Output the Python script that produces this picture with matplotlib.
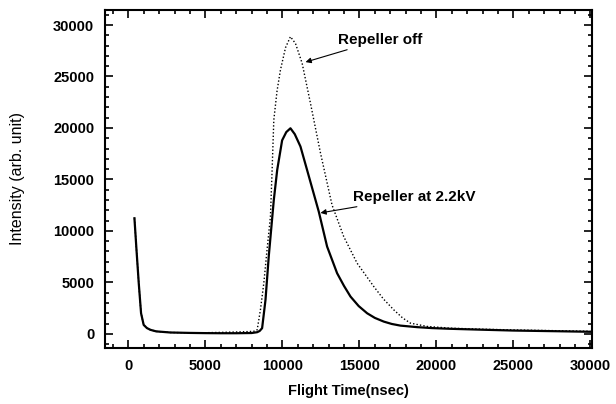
import matplotlib.pyplot as plt
from matplotlib.ticker import MultipleLocator

plt.rcParams['font.family'] = ['Liberation Sans', 'DejaVu Sans']

# flight time (nsec) / intensity, repeller at 2.2 kV
t_on = [390, 530, 670, 820, 990, 1200, 1430, 1800, 2730, 4000, 5000, 6000, 7000,
        8000, 8360, 8520, 8680, 8900, 9110, 9440, 9660, 9980, 10250, 10520,
        10800, 11170, 11600, 12360, 12900, 13550, 14000, 14420, 14950, 15500,
        16000, 16580, 17100, 17660, 18750, 19700, 20900, 23000, 25000, 28000,
        30000]
i_on = [11230, 8000, 4920, 2000, 870, 560, 390, 240, 130, 90, 70, 60, 60,
        80, 160, 280, 550, 3300, 7500, 13010, 15920, 18800, 19600, 19970,
        19400, 18200, 15920, 11870, 8480, 5890, 4650, 3620, 2700, 2000,
        1550, 1190, 960, 800, 650, 560, 490, 400, 320, 250, 200]

# repeller off
t_off = [390, 530, 670, 820, 990, 1200, 1430, 1800, 2730, 4000, 5000, 6000, 7000,
         7800, 8200, 8360, 8570, 8790, 9000, 9220, 9330, 9440, 9650, 9870,
         10200, 10520, 10850, 11280, 11820, 12470, 13220, 13980, 14850, 15930,
         16550, 17230, 17800, 18310, 19390, 20900, 23000, 25000, 28000, 30000]
i_off = [11230, 8000, 4920, 2000, 870, 560, 390, 240, 130, 100, 110, 140, 180,
         220, 260, 390, 2330, 4920, 8160, 11390, 15920, 20780, 23600, 25630,
         27800, 28870, 28200, 26280, 22400, 17570, 12520, 9450, 6860, 4600,
         3400, 2330, 1550, 1040, 720, 550, 450, 380, 300, 250]

fig, ax = plt.subplots(figsize=(6.16, 4.04), dpi=100)
fig.subplots_adjust(left=0.171, right=0.961, top=0.975, bottom=0.139)

ax.plot(t_off, i_off, color='black', lw=1.0, ls=(0, (1, 1.5)))
ax.plot(t_on, i_on, color='black', lw=1.6)

ax.set_xlim(-1500, 30100)
ax.set_ylim(-1360, 31450)
ax.xaxis.set_major_locator(MultipleLocator(5000))
ax.xaxis.set_minor_locator(MultipleLocator(1000))
ax.yaxis.set_major_locator(MultipleLocator(5000))
ax.yaxis.set_minor_locator(MultipleLocator(1000))
ax.tick_params(which='both', direction='in', top=True, right=True, width=1.2)
ax.tick_params(which='major', length=6, labelsize=10.5, pad=8)
ax.tick_params(which='minor', length=3)
for lab in ax.get_xticklabels() + ax.get_yticklabels():
    lab.set_fontweight('bold')
for sp in ax.spines.values():
    sp.set_linewidth(1.5)

ax.set_xlabel('Flight Time(nsec)', fontsize=10.5, fontweight='bold', labelpad=8)
ax.set_ylabel('Intensity (arb. unit)', fontsize=11.5)
ax.yaxis.set_label_coords(-0.166, 0.5)

ax.annotate('Repeller off', xy=(11500, 26400), xytext=(13600, 28550),
            fontsize=11, fontweight='bold', va='center',
            arrowprops=dict(arrowstyle='-|>', color='black', lw=0.8,
                            mutation_scale=8, shrinkA=0, shrinkB=0))
ax.annotate('Repeller at 2.2kV', xy=(12470, 11750), xytext=(14600, 13300),
            fontsize=11, fontweight='bold', va='center',
            arrowprops=dict(arrowstyle='-|>', color='black', lw=0.8,
                            mutation_scale=8, shrinkA=0, shrinkB=0))

fig.savefig('out.png')
